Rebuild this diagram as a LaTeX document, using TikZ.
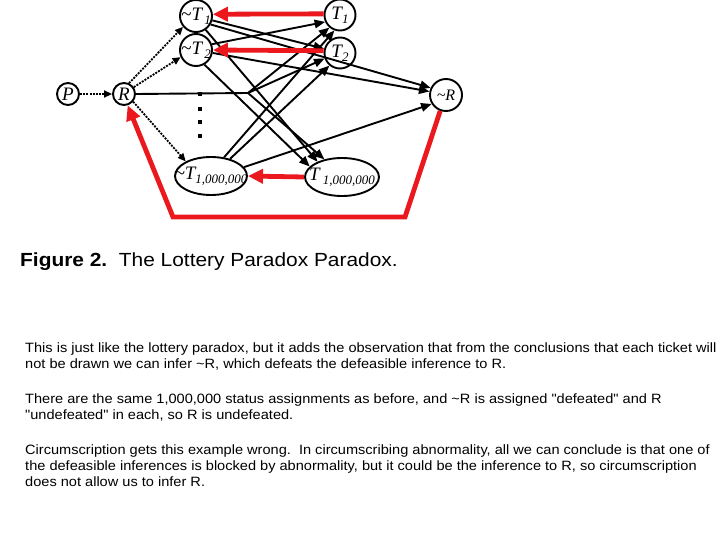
\documentclass[tikz,border=0pt]{standalone}
\usepackage{fontspec}
\setmainfont{Liberation Serif}
\newfontfamily\arialf{Liberation Sans}[FakeStretch=1.08]
\newfontfamily\arialc{Liberation Sans}[FakeStretch=1.1]
\usetikzlibrary{arrows.meta,shapes.geometric}
\definecolor{redc}{RGB}{235,25,30}
\newcommand\lsub[1]{\raisebox{-0.45ex}{\fontsize{13}{13}\selectfont #1}}
\newcommand\tl{\textasciitilde}
\begin{document}
\begin{tikzpicture}[x=1pt,y=-1pt,
  circ/.style={circle, draw, line width=1.9pt, inner sep=0pt},
  ell/.style={ellipse, draw, line width=1.9pt, inner sep=0pt},
  lbl/.style={font=\fontsize{19}{19}\selectfont\itshape},
  blk/.style={line width=1.9pt, -{Triangle[length=10.5pt,width=8.5pt]}},
  plain/.style={line width=1.9pt},
  dotarr/.style={line width=1.8pt, dash pattern=on 2pt off 1.2pt, -{Triangle[length=8pt,width=7pt]}},
  redarr/.style={draw=redc, line width=4.8pt, -{Triangle[length=15pt,width=14pt]}},
  body/.style={anchor=base west, inner sep=0pt, font=\arialf\fontsize{13.5}{16}\selectfont},
  dotn/.style={fill, minimum size=3.2pt, inner sep=0pt}
]
\useasboundingbox (0,0) rectangle (720,540);

% nodes
\node[circ, lbl, minimum size=22pt] (P) at (68,94) {\makebox[0pt]{P}};
\node[circ, lbl, minimum size=22pt] (R) at (124,94) {\makebox[0pt]{R}};
\node[circ, lbl, minimum size=32pt] (nT1) at (196,16) {\makebox[0pt]{\tl T\lsub{\,1}}};
\node[circ, lbl, minimum size=32pt] (nT2) at (196,50) {\makebox[0pt]{\tl T\lsub{\,2}}};
\node[circ, lbl, minimum size=31pt] (T1) at (340,15) {\makebox[0pt]{T\lsub{1}}};
\node[circ, lbl, minimum size=31pt] (T2) at (340,53) {\makebox[0pt]{T\lsub{2}}};
\node[circ, minimum size=32pt, font=\fontsize{16}{16}\selectfont\itshape] (nR) at (446,95) {\makebox[0pt]{\raisebox{-2pt}{\tl R}}};
\node[ell, lbl, minimum width=72pt, minimum height=38pt] (nTm) at (211,176) {\makebox[0pt]{\tl T\lsub{1,000,000}}};
\node[ell, lbl, minimum width=74pt, minimum height=38pt] (Tm) at (342,177) {\makebox[0pt]{T\,\lsub{1,000,000}}};

% vertical dots
\node[dotn] (d1) at (200,94) {};
\node[dotn] (d2) at (200,109) {};
\node[dotn] (d3) at (200,122) {};
\node[dotn] (d4) at (200,136) {};

% dotted arrows
\draw[dotarr] (P) -- (R);
\draw[dotarr] (R.65) -- (nT1.220);
\draw[dotarr] (R.35) -- (nT2.205);
\draw[dotarr] (R.-40) -- (nTm.150);

% black arrows
\coordinate (j) at (248,93);
\draw[plain] (R.east) -- (j);
\draw[blk] (j) -- (T1.230);
\draw[blk] (j) -- (T2.200);
\draw[blk] (j) -- (Tm.135);

\draw[blk] (nT1.-15) -- (T2.165);
\draw[blk] (nT1.-30) -- (nR.155);
\draw[blk] (nT1.-55) -- (Tm.148);

\draw[blk] (nT2.20) -- (T1.205);
\draw[blk] (nT2.-10) -- (nR.168);
\draw[blk] (nT2.-60) -- (Tm.162);

\draw[blk] (nTm.55) -- (T1.250);
\draw[blk] (nTm.42) -- (T2.230);
\draw[blk] (nTm.15) -- (nR.212);

% red arrows
\draw[redarr] (T1.176) -- (nT1.6);
\draw[redarr] (T2.172) -- (nT2.east);
\draw[redarr] (Tm.west) -- (nTm.east);
\coordinate (c1) at (405,217);
\coordinate (c2) at (173,217);
\draw[redarr, line join=miter] (nR.-110) -- (c1) -- (c2) -- (R.-72);

% caption
\node[anchor=base west, inner sep=0pt, font=\arialc\fontsize{19}{22}\selectfont] (cap) at (20,266)
  {\textbf{Figure 2.}\ \ The Lottery Paradox Paradox.};

% body text
\node[body] (l1) at (25,352) {This is just like the lottery paradox, but it adds the observation that from the conclusions that each ticket will};
\node[body] (l2) at (25,368) {not be drawn we can infer \tl R, which defeats the defeasible inference to R.};
\node[body] (l3) at (25,403) {There are the same 1,000,000 status assignments as before, and \tl R is assigned "defeated" and R};
\node[body] (l4) at (25,419) {"undefeated" in each, so R is undefeated.};
\node[body] (l5) at (25,454) {Circumscription gets this example wrong.\ \ In circumscribing abnormality, all we can conclude is that one of};
\node[body] (l6) at (25,470) {the defeasible inferences is blocked by abnormality, but it could be the inference to R, so circumscription};
\node[body] (l7) at (25,486) {does not allow us to infer R.};
\end{tikzpicture}
\end{document}
